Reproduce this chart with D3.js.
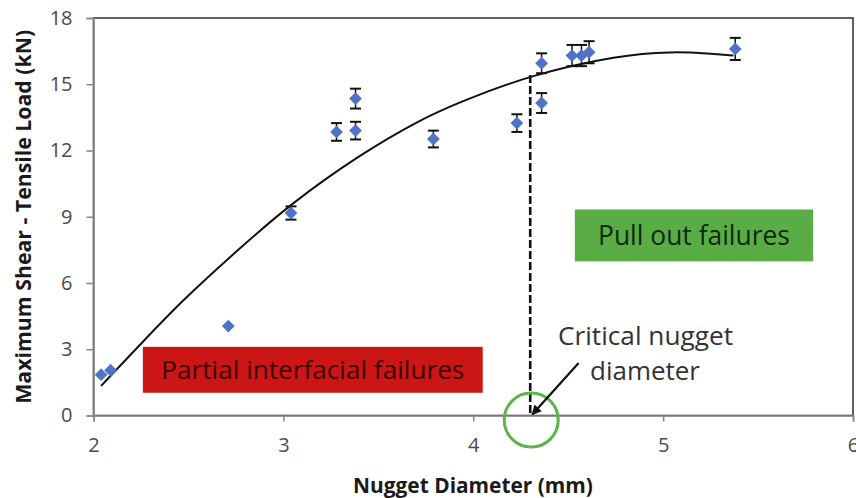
<!DOCTYPE html>
<html>
<head>
<meta charset="utf-8">
<script src="https://cdn.jsdelivr.net/npm/d3@7"></script>
<style>
  html, body { margin: 0; padding: 0; background: #fff; }
  svg { display: block; font-family: "Open Sans", Lato, sans-serif; }
</style>
</head>
<body>
<svg id="chart" width="856" height="498"></svg>
<script>
// Measured nugget diameters (mm) and peak shear-tensile loads (kN)
const nuggetDiameter = [2.04, 2.09, 2.71, 3.04, 3.28, 3.38, 3.38, 3.79, 4.23, 4.36, 4.36, 4.52, 4.57, 4.61, 5.38];
const maxLoad        = [1.85, 2.05, 4.05, 9.17, 12.84, 12.90, 14.35, 12.52, 13.24, 14.15, 15.95, 16.30, 16.30, 16.45, 16.60];
const loadError      = [0.08, 0.08, 0.10, 0.30, 0.40, 0.40, 0.45, 0.38, 0.40, 0.45, 0.45, 0.48, 0.48, 0.50, 0.50];

// Polynomial trend line, sampled along the fitted curve
const trendDiameter = [2.04, 2.26, 2.46, 2.76, 3.04, 3.40, 3.72, 3.93, 4.30, 4.77, 5.05, 5.24, 5.37];
const trendLoad     = [1.34, 3.34, 5.15, 7.50, 9.60, 11.80, 13.40, 14.20, 15.42, 16.33, 16.48, 16.40, 16.30];

// Critical nugget diameter (transition point on the trend line)
const criticalDiameter = 4.30;
const criticalLoad = 15.42;

const xTicks = [2, 3, 4, 5, 6];
const yTicks = [0, 3, 6, 9, 12, 15, 18];

const xTitle = "Nugget Diameter (mm)";
const yTitle = "Maximum  Shear - Tensile Load (kN)";
const failureModes = ["Partial interfacial failures", "Pull out failures"];
const criticalLabel = ["Critical nugget", "diameter"];

const svg = d3.select("#chart");
const plot = { left: 93.5, right: 853, top: 18, bottom: 415.5 };

const x = d3.scaleLinear().domain([2, 6]).range([plot.left, plot.right]);
const y = d3.scaleLinear().domain([0, 18]).range([plot.bottom, plot.top]);

// Scale a text's font size so that it spans the given width
function fitWidth(sel, width) {
  const node = sel.node();
  const size = parseFloat(sel.style("font-size"));
  const w = node.getComputedTextLength();
  if (w > 0) sel.style("font-size", (size * width / w).toFixed(2) + "px");
  return sel;
}

// Plot-area frame
svg.append("rect")
  .attr("x", plot.left).attr("y", plot.top)
  .attr("width", plot.right - plot.left).attr("height", plot.bottom - plot.top)
  .attr("fill", "none").attr("stroke", "#3a3a3a").attr("stroke-width", 1.6);

// Axes
const xAxis = svg.append("g")
  .attr("transform", `translate(0,${plot.bottom})`)
  .call(d3.axisBottom(x).tickValues(xTicks).tickSize(6).tickPadding(11).tickFormat(d3.format("d")));
const yAxis = svg.append("g")
  .attr("transform", `translate(${plot.left},0)`)
  .call(d3.axisLeft(y).tickValues(yTicks).tickSize(7).tickPadding(14).tickFormat(d3.format("d")));

[xAxis, yAxis].forEach(g => {
  g.select(".domain").attr("stroke", "#8a8a8a").attr("stroke-width", 1.6);
  g.selectAll(".tick line").attr("stroke", "#8a8a8a").attr("stroke-width", 1.6);
  g.selectAll(".tick text")
    .attr("fill", "#4a4a4a")
    .style("font-family", "'Open Sans', sans-serif")
    .style("font-size", "20px");
});
xAxis.selectAll(".tick text").attr("dy", "0.95em");

// Axis titles
fitWidth(svg.append("text")
  .attr("x", 473).attr("y", 493)
  .attr("text-anchor", "middle")
  .style("font-weight", "bold").style("font-size", "20px").attr("fill", "#1a1a1a")
  .text(xTitle), 240);
fitWidth(svg.append("text")
  .attr("transform", `translate(31,${(plot.top + plot.bottom) / 2}) rotate(-90)`)
  .attr("text-anchor", "middle")
  .style("font-weight", "bold").style("font-size", "19px").attr("fill", "#1a1a1a")
  .text(yTitle), 374);

// Failure-mode labels
function labelBox(x0, y0, x1, y1, fill, textFill, text, textWidth) {
  svg.append("rect")
    .attr("x", x(x0)).attr("y", y(y1))
    .attr("width", x(x1) - x(x0)).attr("height", y(y0) - y(y1))
    .attr("fill", fill);
  fitWidth(svg.append("text")
    .attr("x", (x(x0) + x(x1)) / 2).attr("y", (y(y0) + y(y1)) / 2)
    .attr("dy", "0.36em")
    .attr("text-anchor", "middle")
    .style("font-size", "24px").attr("fill", textFill)
    .text(text), textWidth);
}
labelBox(2.26, 1.03, 4.05, 3.11, "#cc1616", "#3b0505", failureModes[0], 303);
labelBox(4.535, 6.98, 5.79, 9.33, "#5aad45", "#0e2a0a", failureModes[1], 192);

// Trend line
const line = d3.line()
  .x((d, i) => x(trendDiameter[i]))
  .y((d, i) => y(trendLoad[i]))
  .curve(d3.curveBasis);
svg.append("path")
  .datum(trendDiameter)
  .attr("d", line)
  .attr("fill", "none").attr("stroke", "#111").attr("stroke-width", 2);

// Critical diameter marker line
svg.append("line")
  .attr("x1", x(criticalDiameter)).attr("x2", x(criticalDiameter))
  .attr("y1", y(criticalLoad)).attr("y2", y(0))
  .attr("stroke", "#111").attr("stroke-width", 2.6)
  .attr("stroke-dasharray", "8,3");

// Error bars and markers
const pts = nuggetDiameter.map((d, i) => ({ d, v: maxLoad[i], e: loadError[i] }));
const eb = svg.append("g").attr("stroke", "#111").attr("stroke-width", 2);
pts.filter(p => p.e >= 0.2).forEach(p => {
  const cx = x(p.d);
  eb.append("line").attr("x1", cx).attr("x2", cx).attr("y1", y(p.v - p.e)).attr("y2", y(p.v + p.e)).attr("stroke-width", 1.5);
  eb.append("line").attr("x1", cx - 5.5).attr("x2", cx + 5.5).attr("y1", y(p.v - p.e)).attr("y2", y(p.v - p.e));
  eb.append("line").attr("x1", cx - 5.5).attr("x2", cx + 5.5).attr("y1", y(p.v + p.e)).attr("y2", y(p.v + p.e));
});
svg.append("g").selectAll("path")
  .data(pts)
  .join("path")
  .attr("d", d3.symbol(d3.symbolSquare, 82))
  .attr("transform", p => `translate(${x(p.d)},${y(p.v)}) rotate(45)`)
  .attr("fill", "#4f74c6");

// Callout: circle, arrow and caption
svg.append("defs").append("marker")
  .attr("id", "arrowHead")
  .attr("viewBox", "0 0 10 10").attr("refX", 9).attr("refY", 5)
  .attr("markerWidth", 4.5).attr("markerHeight", 4.5)
  .attr("orient", "auto")
  .append("path").attr("d", "M0,0 L10,5 L0,10 Z").attr("fill", "#111");

svg.append("circle")
  .attr("cx", x(criticalDiameter) + 1).attr("cy", y(0) + 4.5)
  .attr("r", 27)
  .attr("fill", "none").attr("stroke", "#5db34c").attr("stroke-width", 3);

svg.append("line")
  .attr("x1", x(4.555)).attr("y1", y(2.38))
  .attr("x2", x(criticalDiameter) + 2).attr("y2", y(0) - 1)
  .attr("stroke", "#111").attr("stroke-width", 2.2)
  .attr("marker-end", "url(#arrowHead)");

fitWidth(svg.append("text")
  .attr("x", 645.5).attr("y", 345)
  .attr("text-anchor", "middle").style("font-size", "24px").attr("fill", "#333")
  .text(criticalLabel[0]), 175);
fitWidth(svg.append("text")
  .attr("x", 645).attr("y", 380)
  .attr("text-anchor", "middle").style("font-size", "24px").attr("fill", "#333")
  .text(criticalLabel[1]), 110);
</script>
</body>
</html>
